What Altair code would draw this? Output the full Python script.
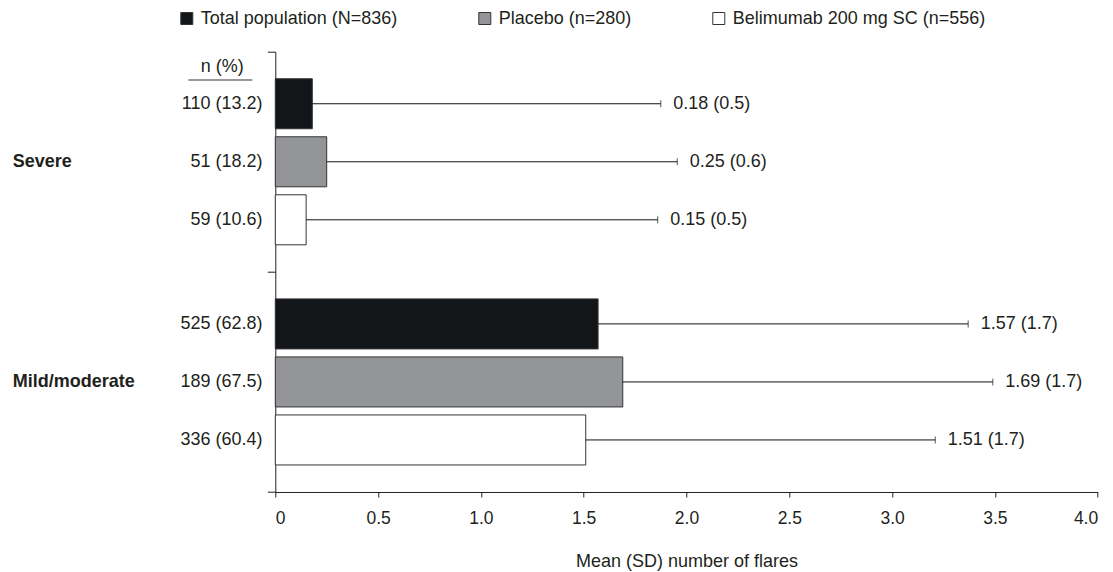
import altair as alt
import pandas as pd

groups = ["Severe", "Mild/moderate"]
series = ["Total population (N=836)", "Placebo (n=280)", "Belimumab 200 mg SC (n=556)"]
colors = ["#131619", "#939598", "#ffffff"]

mean_severe = [0.18, 0.25, 0.15]
sd_severe = [0.5, 0.6, 0.5]
whisker_severe = [1.875, 1.955, 1.86]
n_severe = ["110 (13.2)", "51 (18.2)", "59 (10.6)"]

mean_mild = [1.57, 1.69, 1.51]
sd_mild = [1.7, 1.7, 1.7]
whisker_mild = [3.37, 3.49, 3.21]
n_mild = ["525 (62.8)", "189 (67.5)", "336 (60.4)"]

x_ticks = [0, 0.5, 1.0, 1.5, 2.0, 2.5, 3.0, 3.5, 4.0]

rows = []
for g, means, sds, whs, ns in [
    (groups[0], mean_severe, sd_severe, whisker_severe, n_severe),
    (groups[1], mean_mild, sd_mild, whisker_mild, n_mild),
]:
    for s, m, sd, w, n in zip(series, means, sds, whs, ns):
        rows.append({"group": g, "series": s, "mean": m, "sd": sd, "whisker": w,
                     "nlab": n, "vlab": f"{m:.2f} ({sd:.1f})"})
df = pd.DataFrame(rows)

TXT = "#231f20"
FS = 18

base = alt.Chart(df).encode(
    y=alt.Y("group:N", sort=groups,
            scale=alt.Scale(paddingInner=0, paddingOuter=0),
            axis=alt.Axis(title=None, tickBand="extent", tickSize=8, tickColor=TXT,
                          domainColor=TXT, labelAlign="left", labelPadding=255,
                          labelFontWeight="bold", labelFontSize=FS, labelColor=TXT,
                          labelBaseline="middle", labelLimit=300)),
    yOffset=alt.YOffset("series:N", sort=series,
                        scale=alt.Scale(paddingInner=0.138, paddingOuter=0.466)),
)

bars = base.mark_bar(stroke="#333333", strokeWidth=1).encode(
    x=alt.X("mean:Q", scale=alt.Scale(domain=[0, 4], nice=False, zero=True),
            axis=alt.Axis(values=x_ticks, title="Mean (SD) number of flares",
                          labelExpr="datum.value === 0 ? '0' : format(datum.value, '.1f')",
                          tickSize=5, tickColor=TXT, domainColor=TXT, grid=False,
                          labelFontSize=17.5, labelColor=TXT, labelPadding=13,
                          titleFontSize=FS, titleFontWeight="normal", titleColor=TXT,
                          titlePadding=25)),
    color=alt.Color("series:N", sort=series,
                    scale=alt.Scale(domain=series, range=colors),
                    legend=alt.Legend(title=None, orient="none", direction="horizontal",
                                      legendX=-97.5, legendY=-42.2, padding=0,
                                      columnPadding=78, symbolType="square",
                                      symbolSize=144, symbolStrokeColor="#333333",
                                      symbolStrokeWidth=1, symbolOpacity=1,
                                      labelFontSize=FS, labelColor=TXT, labelOffset=5,
                                      labelLimit=400)),
)

rules = base.mark_rule(color="#111111", strokeWidth=1).encode(
    x="mean:Q", x2="whisker:Q")

caps = base.mark_tick(color="#111111", thickness=1, size=7).encode(x="whisker:Q")

vals = base.mark_text(align="left", baseline="middle", dx=12.5, fontSize=FS,
                      color=TXT).encode(x="whisker:Q", text="vlab:N")

nlabs = base.mark_text(align="right", baseline="middle", fontSize=FS,
                       color=TXT).encode(x=alt.value(-12.8), text="nlab:N")

hdr_df = pd.DataFrame({"t": ["n (%)"]})
header = alt.Chart(hdr_df).mark_text(align="center", baseline="middle", fontSize=FS,
                                     color=TXT).encode(
    x=alt.value(-53), y=alt.value(15.3), text="t:N")
underline = alt.Chart(hdr_df).mark_rule(color="#333333", strokeWidth=1).encode(
    x=alt.value(-87), x2=alt.value(-23), y=alt.value(28.3))

chart = alt.layer(bars, rules, caps, vals, nlabs, header, underline).properties(
    width=822.4, height=440.3,
    autosize=alt.AutoSizeParams(type="none"),
    padding={"left": 267.3, "top": 43.7, "right": 7, "bottom": 90},
).configure(font="Liberation Sans").configure_view(stroke=None)

chart.save("out.html", embed_options={"renderer": "svg", "actions": False})
